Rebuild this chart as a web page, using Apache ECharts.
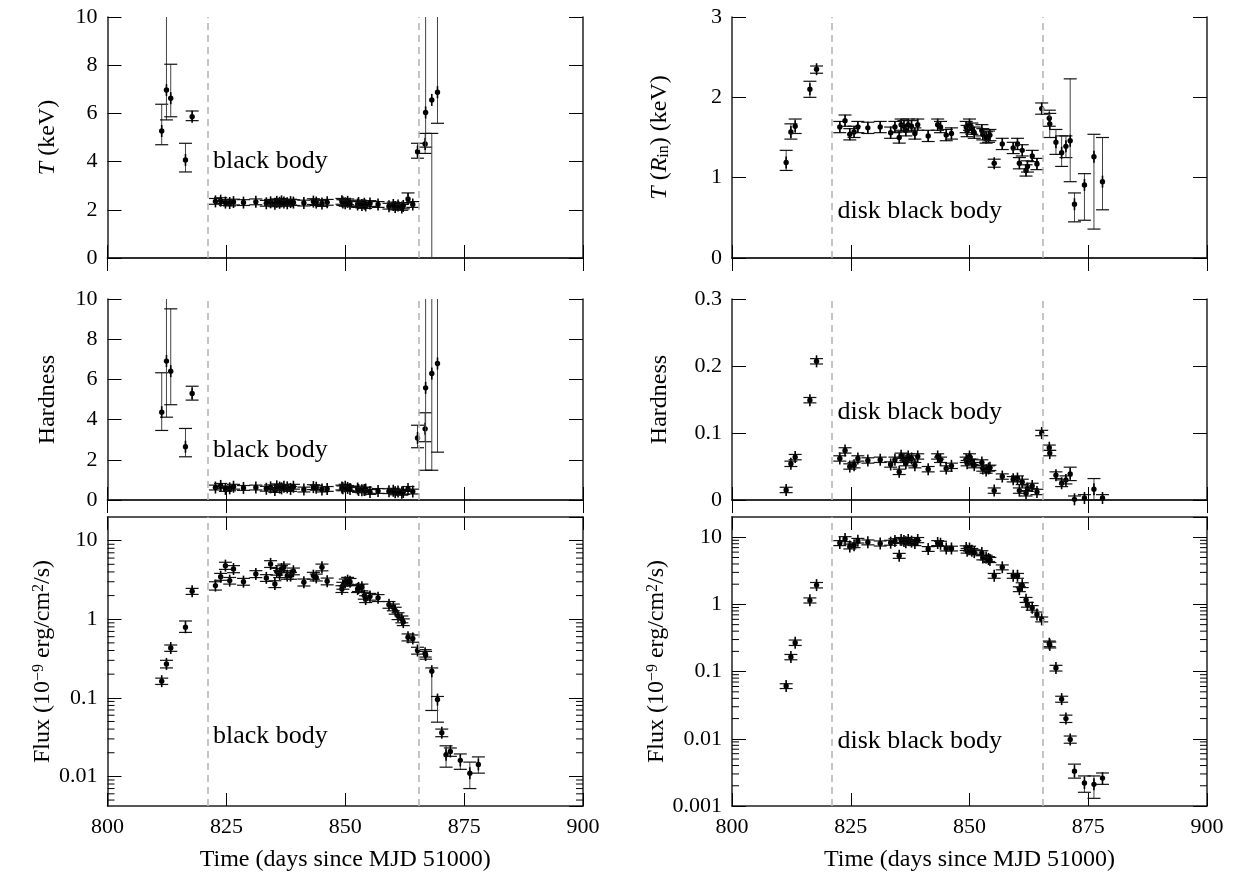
<!DOCTYPE html>
<html><head><meta charset="utf-8">
<script src="https://cdn.jsdelivr.net/npm/echarts@6/dist/echarts.min.js"></script>
<style>html,body{margin:0;padding:0;background:#fff}#c{width:1237px;height:879px}</style>
</head><body><div id="c"></div><script>
// ---------- data ----------
const days = [811.4, 812.4, 813.3, 816.4, 817.8, 822.7, 823.8, 824.8, 825.7, 826.5,
  828.6, 831.2, 833.4, 834.3, 835.2, 835.6, 836.2, 836.6, 837.1, 837.8,
  838.5, 839.1, 841.3, 843.3, 843.9, 845.1, 846.2, 849.3, 849.5, 850.0,
  850.5, 851.0, 852.6, 852.8, 853.5, 854.0, 854.3, 855.2, 856.9, 859.2,
  860.1, 860.5, 861.1, 861.9, 862.2, 863.2, 864.2, 865.2, 866.8, 866.9,
  868.2, 869.4, 870.3, 871.2, 872.1, 874.2, 876.2, 878.0];

// black body temperature (keV); error: number = symmetric, [lo, hi] = bounds
const tBBVal = [5.27, 6.97, 6.63, 4.07, 5.86,
  2.35, 2.38, 2.30, 2.28, 2.32, 2.30, 2.33, 2.27, 2.31, 2.25,
  2.33, 2.29, 2.35, 2.30, 2.27, 2.32, 2.30, 2.28, 2.34, 2.30,
  2.26, 2.31, 2.35, 2.30, 2.27, 2.33, 2.25, 2.22, 2.28, 2.20,
  2.25, 2.18, 2.26, 2.22, 2.15, 2.20, 2.12, 2.18, 2.10, 2.16,
  2.45, 2.22,
  4.41, 4.73, 6.04, 6.56, 6.88,
  null, null, null, null, null, null];
const tBBErr = [[4.70, 6.38], [5.73, 14], [5.86, 8.04], [3.57, 4.76], [5.70, 6.10],
  0.12, 0.12, 0.12, 0.12, 0.12, 0.12, 0.12, 0.12, 0.12, 0.12,
  0.12, 0.12, 0.12, 0.12, 0.12, 0.12, 0.12, 0.12, 0.12, 0.12,
  0.12, 0.12, 0.12, 0.12, 0.12, 0.12, 0.12, 0.12, 0.12, 0.12,
  0.12, 0.12, 0.12, 0.12, 0.12, 0.12, 0.12, 0.12, 0.12, 0.12,
  [2.30, 2.70], 0.12,
  [4.14, 4.76], [4.34, 5.17], [4.6, 14], [-1, 5.17], [5.59, 14],
  null, null, null, null, null, null];

// disk black body inner temperature (keV)
const tRinVal = [1.19, 1.57, 1.64, 2.10, 2.35,
  1.63, 1.71, 1.54, 1.57, 1.63, 1.62, 1.63, 1.56, 1.63, 1.50,
  1.66, 1.64, 1.59, 1.66, 1.64, 1.55, 1.66, 1.52, 1.66, 1.63,
  1.53, 1.55, 1.63, 1.58, 1.66, 1.61, 1.56, 1.59, 1.54, 1.50,
  1.51, 1.53, 1.18, 1.42, 1.37, 1.42, 1.18, 1.34, 1.09, 1.14,
  1.27, 1.17,
  1.86, 1.74, 1.67, 1.44, 1.31,
  1.39, 1.46, 0.67, 0.91, 1.26, 0.95];
const tRinErr = [[1.09, 1.34], [1.48, 1.67], [1.55, 1.73], [2.00, 2.20], [2.30, 2.39],
  0.07, 0.07, 0.07, 0.07, 0.07, 0.07, 0.07, 0.07, 0.07, 0.07,
  0.07, 0.07, 0.07, 0.07, 0.07, 0.07, 0.07, 0.07, 0.07, 0.07,
  0.07, 0.07, 0.07, 0.07, 0.07, 0.07, 0.07, 0.07, 0.07, 0.07,
  0.07, 0.07, 0.05, 0.07, 0.07, 0.07, 0.07, 0.07, 0.07, 0.07,
  0.07, 0.07,
  [1.79, 1.93], [1.64, 1.84], [1.50, 1.80], [1.29, 1.60], [1.14, 1.52],
  [1.25, 1.52], [0.95, 2.23], [0.45, 0.81], [0.47, 1.05], [0.36, 1.54], [0.60, 1.50]];

// hardness, black body fit
const hBBVal = [4.37, 6.91, 6.41, 2.65, 5.30,
  0.62, 0.70, 0.55, 0.58, 0.66, 0.60, 0.62, 0.56, 0.63, 0.50,
  0.68, 0.62, 0.58, 0.66, 0.63, 0.55, 0.66, 0.52, 0.64, 0.61,
  0.52, 0.55, 0.62, 0.58, 0.66, 0.60, 0.55, 0.57, 0.50, 0.48,
  0.50, 0.52, 0.40, 0.45, 0.44, 0.46, 0.38, 0.42, 0.36, 0.40,
  0.55, 0.42,
  3.09, 3.54, 5.58, 6.29, 6.79,
  null, null, null, null, null, null];
const hBBErr = [[3.46, 6.33], [4.12, 14], [4.74, 9.51], [2.15, 3.56], [4.97, 5.66],
  0.12, 0.12, 0.12, 0.12, 0.12, 0.12, 0.12, 0.12, 0.12, 0.12,
  0.12, 0.12, 0.12, 0.12, 0.12, 0.12, 0.12, 0.12, 0.12, 0.12,
  0.12, 0.12, 0.12, 0.12, 0.12, 0.12, 0.12, 0.12, 0.12, 0.12,
  0.12, 0.12, 0.12, 0.12, 0.12, 0.12, 0.12, 0.12, 0.12, 0.12,
  0.12, 0.12,
  [2.60, 3.72], [2.90, 4.34], [1.48, 14], [1.48, 14], [2.38, 14],
  null, null, null, null, null, null];

// hardness, disk black body fit
const hRinVal = [0.015, 0.054, 0.064, 0.149, 0.207,
  0.062, 0.074, 0.050, 0.052, 0.062, 0.059, 0.060, 0.053, 0.060, 0.042,
  0.066, 0.060, 0.055, 0.065, 0.062, 0.052, 0.065, 0.046, 0.065, 0.060,
  0.047, 0.051, 0.060, 0.055, 0.065, 0.057, 0.052, 0.056, 0.047, 0.044,
  0.047, 0.048, 0.014, 0.035, 0.031, 0.032, 0.014, 0.027, 0.010, 0.017,
  0.021, 0.012,
  0.100, 0.078, 0.070, 0.037, 0.025,
  0.030, 0.039, 0.001, 0.003, 0.016, 0.003];
const hRinErr = [0.004, 0.004, 0.004, 0.004, 0.004,
  0.004, 0.004, 0.004, 0.004, 0.004, 0.004, 0.004, 0.004, 0.004, 0.004,
  0.004, 0.004, 0.004, 0.004, 0.004, 0.004, 0.004, 0.004, 0.004, 0.004,
  0.004, 0.004, 0.004, 0.004, 0.004, 0.004, 0.004, 0.004, 0.004, 0.004,
  0.004, 0.004, 0.004, 0.004, 0.004, 0.004, 0.004, 0.004, 0.004, 0.004,
  0.004, 0.004,
  0.004, 0.004, 0.004, 0.005, 0.005,
  0.006, 0.010, 0.005, 0.005, 0.016, 0.005];

// flux (1e-9 erg/cm2/s), black body fit
const fBBVal = [0.163, 0.27, 0.43, 0.79, 2.27,
  2.68, 3.48, 4.81, 3.10, 4.36, 3.01, 3.77, 3.36, 5.06, 2.81,
  4.04, 3.77, 4.36, 4.58, 3.59, 3.59, 4.08, 2.95, 3.59, 3.41,
  4.58, 3.04, 2.43, 2.68, 2.95, 3.10, 3.00, 2.43, 2.50, 2.55,
  2.00, 1.81, 1.94, 1.87, 1.53, 1.42, 1.29, 1.10, 1.00, 0.92,
  0.59, 0.57,
  0.40, 0.37, 0.35, 0.218, 0.095,
  0.036, 0.0189, 0.0208, 0.016, 0.011, 0.0142];
const fBBErr = [0.015, 0.03, 0.04, [0.68, 0.95], 0.2,
  [2.35, 3.0], 0.35, 0.5, 0.3, 0.45, 0.3, 0.38, 0.33, 0.5, 0.28,
  0.4, 0.38, 0.44, 0.45, 0.36, 0.36, 0.4, 0.3, 0.36, 0.34,
  0.45, 0.3, 0.24, 0.27, 0.3, 0.31, 0.3, 0.24, 0.25, 0.25,
  0.2, 0.18, 0.19, 0.19, 0.15, 0.14, 0.13, 0.11, 0.1, 0.09,
  0.06, 0.06,
  0.04, 0.04, 0.04, [0.069, 0.24], [0.049, 0.104],
  [0.032, 0.040], [0.0131, 0.0245], [0.018, 0.023], [0.0123, 0.0193], [0.007, 0.0152], [0.011, 0.0177]];

// flux, disk black body fit
const fRinVal = [0.061, 0.165, 0.27, 1.15, 1.94,
  8.2, 9.4, 7.3, 7.6, 8.9, 8.4, 8.1, 8.3, 8.8, 5.3,
  9.1, 8.8, 8.4, 9.1, 8.6, 8.2, 9.1, 6.7, 8.2, 8.0,
  6.8, 6.8, 6.9, 6.3, 6.8, 6.3, 6.0, 5.8, 5.0, 5.0,
  4.75, 4.6, 2.67, 3.57, 2.67, 2.67, 1.69, 1.94, 1.17, 0.99,
  0.89, 0.71,
  0.60, 0.26, 0.25, 0.113, 0.039,
  0.020, 0.0098, 0.0033, 0.0022, 0.0021, 0.0026];
const fRinErr = [0.005, 0.015, 0.025, 0.1, 0.18,
  0.7, 0.8, 0.6, 0.6, 0.7, 0.7, 0.7, 0.7, 0.7, 0.45,
  0.8, 0.7, 0.7, 0.8, 0.7, 0.7, 0.8, 0.55, 0.7, 0.7,
  0.55, 0.55, 0.55, 0.5, 0.55, 0.5, 0.5, 0.5, 0.4, 0.4,
  0.4, 0.4, 0.22, 0.3, 0.22, 0.22, 0.14, 0.16, 0.1, 0.08,
  0.07, 0.06,
  0.05, 0.025, 0.025, 0.011, 0.004,
  0.0025, 0.0012, [0.0026, 0.0042], [0.0016, 0.0028], [0.0013, 0.0028], [0.0021, 0.0031]];

const vLines = [821, 865.5];
const logDecades = [0.001, 0.01, 0.1, 1, 10];
const logMultipliers = [2, 3, 4, 5, 6, 7, 8, 9];

// ---------- layout ----------
const FONT = '"Liberation Serif", "Times New Roman", "DejaVu Serif", serif';
const cols = [{x: 107.5, w: 475.5}, {x: 732, w: 475}];
const rows = [{y: 17, h: 241}, {y: 299, h: 201}, {y: 517, h: 289}];
const fluxName = 'Flux (10{sup|−9} erg/cm{sup|2}/s)';

const panels = [
  {r: 0, c: 0, type: 'value', min: 0, max: 10, interval: 2, name: '{i|T} (keV)', v: tBBVal, e: tBBErr, note: 'black body', noteY: 4.0},
  {r: 0, c: 1, type: 'value', min: 0, max: 3, interval: 1, name: '{i|T} ({i|R}{sub|in}) (keV)', v: tRinVal, e: tRinErr, note: 'disk black body', noteY: 0.585},
  {r: 1, c: 0, type: 'value', min: 0, max: 10, interval: 2, name: 'Hardness', v: hBBVal, e: hBBErr, note: 'black body', noteY: 2.5},
  {r: 1, c: 1, type: 'value', min: 0, max: 0.3, interval: 0.1, name: 'Hardness', v: hRinVal, e: hRinErr, note: 'disk black body', noteY: 0.131},
  {r: 2, c: 0, type: 'log', min: 0.0042, max: 20, name: fluxName, v: fBBVal, e: fBBErr, note: 'black body', noteY: 0.0325},
  {r: 2, c: 1, type: 'log', min: 0.001, max: 20, name: fluxName, v: fRinVal, e: fRinErr, note: 'disk black body', noteY: 0.0091}
];

function buildData(vals, errs) {
  const out = [];
  for (let i = 0; i < days.length; i++) {
    const y = vals[i];
    if (y === null || y === undefined) continue;
    const e = errs[i];
    let lo, hi;
    if (Array.isArray(e)) { lo = e[0]; hi = e[1]; } else { lo = y - e; hi = y + e; }
    out.push([days[i], y, lo, hi]);
  }
  return out;
}

function renderErr(params, api) {
  const cs = params.coordSys;
  const x = api.value(0), y = api.value(1), lo = api.value(2), hi = api.value(3);
  const p = api.coord([x, y]);
  const yl = api.coord([x, lo])[1], yh = api.coord([x, hi])[1];
  const top = cs.y, bot = cs.y + cs.height;
  const cl = v => Math.max(top, Math.min(bot, v));
  const ch = [];
  ch.push({type: 'line', shape: {x1: p[0], y1: cl(yl), x2: p[0], y2: cl(yh)}, style: {stroke: '#444', lineWidth: 1}});
  [yl, yh].forEach(v => {
    if (v >= top - 0.5 && v <= bot + 0.5) {
      ch.push({type: 'line', shape: {x1: p[0] - 6.5, y1: v, x2: p[0] + 6.5, y2: v}, style: {stroke: '#111', lineWidth: 1.2}});
    }
  });
  ch.push({type: 'line', shape: {x1: p[0], y1: p[1] - 6, x2: p[0], y2: p[1] + 6}, style: {stroke: '#000', lineWidth: 1.6}});
  ch.push({type: 'circle', shape: {cx: p[0], cy: p[1], r: 2.7}, style: {fill: '#000'}});
  return {type: 'group', children: ch};
}

function renderMinor(params, api) {
  const cs = params.coordSys;
  const yy = api.coord([800, api.value(1)])[1];
  return {type: 'group', children: [
    {type: 'line', shape: {x1: cs.x, y1: yy, x2: cs.x + 7, y2: yy}, style: {stroke: '#000', lineWidth: 1}},
    {type: 'line', shape: {x1: cs.x + cs.width - 7, y1: yy, x2: cs.x + cs.width, y2: yy}, style: {stroke: '#000', lineWidth: 1}}
  ]};
}

function makeNote(text) {
  return function (params, api) {
    const p = api.coord([api.value(0), api.value(1)]);
    return {type: 'text', x: p[0], y: p[1],
      style: {text: text, fill: '#000', font: '26px ' + FONT, textAlign: 'left', textVerticalAlign: 'middle'}};
  };
}

const grid = [], xAxis = [], yAxis = [], series = [];
const richName = {
  i: {fontStyle: 'italic', fontFamily: FONT, fontSize: 24, color: '#000'},
  sub: {fontFamily: FONT, fontSize: 16, verticalAlign: 'bottom', color: '#000'},
  sup: {fontFamily: FONT, fontSize: 16, verticalAlign: 'top', color: '#000'}
};
const lineStyle = {color: '#222', width: 1.5};
const fmtLog = v => String(+(+v).toPrecision(6));

panels.forEach((pn, k) => {
  const col = cols[pn.c], row = rows[pn.r];
  grid.push({left: col.x, top: row.y, width: col.w, height: row.h, containLabel: false});
  const bottomRow = pn.r === 2;
  xAxis.push({
    gridIndex: k, type: 'value', min: 800, max: 900, interval: 25, position: 'bottom',
    axisLine: {show: true, lineStyle}, splitLine: {show: false},
    axisTick: {show: true, inside: true, length: 13, lineStyle: {color: '#000', width: 1}},
    axisLabel: {show: bottomRow, fontFamily: FONT, fontSize: 22, color: '#000', margin: 10},
    name: bottomRow ? 'Time (days since MJD 51000)' : '', nameLocation: 'middle', nameGap: 42,
    nameTextStyle: {fontFamily: FONT, fontSize: 24, color: '#000'}
  });
  xAxis.push({
    gridIndex: k, type: 'value', min: 800, max: 900, interval: 25, position: 'top',
    axisLine: {show: true, lineStyle}, splitLine: {show: false},
    axisTick: {show: true, inside: true, length: 13, lineStyle: {color: '#000', width: 1}},
    axisLabel: {show: false}
  });
  const yBase = {
    gridIndex: k, type: pn.type, min: pn.min, max: pn.max,
    axisLine: {show: true, lineStyle}, splitLine: {show: false},
    axisTick: {show: true, inside: true, length: 14, lineStyle: {color: '#000', width: 1}}
  };
  if (pn.type === 'value') yBase.interval = pn.interval;
  else yBase.logBase = 10;
  yAxis.push(Object.assign({}, yBase, {
    position: 'left',
    axisLabel: {show: true, fontFamily: FONT, fontSize: 22, color: '#000', margin: 10,
      formatter: pn.type === 'log' ? fmtLog : undefined,
      showMinLabel: !(pn.type === 'log' && pn.c === 0), showMaxLabel: pn.type !== 'log'},
    name: pn.name, nameLocation: 'middle', nameRotate: 90, nameGap: pn.c === 0 ? 48 : 60,
    nameTextStyle: {fontFamily: FONT, fontSize: 24, color: '#000', rich: richName}
  }));
  yAxis.push(Object.assign({}, yBase, {position: 'right', axisLabel: {show: false}}));

  const xi = 2 * k, yi = 2 * k;
  // annotation text + dashed separators
  series.push({
    type: 'custom', xAxisIndex: xi, yAxisIndex: yi, z: 1, silent: true,
    renderItem: makeNote(pn.note), data: [[822.2, pn.noteY]],
    markLine: {silent: true, symbol: ['none', 'none'], label: {show: false},
      lineStyle: {color: '#b3b3b3', type: [7, 5], width: 1.5},
      data: vLines.map(v => ({xAxis: v}))}
  });
  series.push({
    type: 'custom', xAxisIndex: xi, yAxisIndex: yi, z: 3, silent: true,
    renderItem: renderErr, data: buildData(pn.v, pn.e)
  });
  if (pn.type === 'log') {
    const minor = [];
    logDecades.forEach(d => logMultipliers.forEach(m => {
      const v = d * m;
      if (v > pn.min && v < pn.max) minor.push([800, v]);
    }));
    series.push({type: 'custom', xAxisIndex: xi, yAxisIndex: yi, z: 2, silent: true,
      renderItem: renderMinor, data: minor});
  }
});

const chart = echarts.init(document.getElementById('c'), null, {renderer: 'canvas'});
chart.setOption({animation: false, backgroundColor: '#fff', grid, xAxis, yAxis, series});
</script></body></html>
